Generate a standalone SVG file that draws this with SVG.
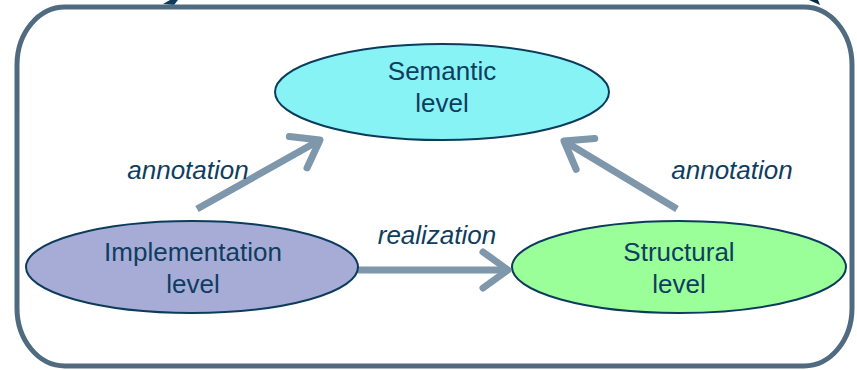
<svg xmlns="http://www.w3.org/2000/svg" width="857" height="370" viewBox="0 0 857 370">
  <style>
    .frame { fill: #ffffff; stroke: #506b7f; stroke-width: 5; }
    .node { stroke: #0d3b5c; stroke-width: 2; }
    .label { font-family: "Liberation Sans", Arial, sans-serif; font-size: 26px; fill: #0f3d5f; text-anchor: middle; }
    .edge-label { font-family: "Liberation Sans", Arial, sans-serif; font-size: 26px; font-style: italic; fill: #0f3d5f; text-anchor: middle; }
    .edge { stroke: #7e97ab; stroke-width: 7; fill: none; stroke-linecap: butt; }
    .head { stroke: #7e97ab; stroke-width: 7; fill: none; stroke-linecap: round; stroke-linejoin: round; }
  </style>
  <defs>
    <marker id="chevron" markerUnits="userSpaceOnUse" viewBox="-30 -25 40 50" markerWidth="40" markerHeight="50" refX="0" refY="0" orient="auto" overflow="visible">
      <path class="head" d="M -25,-18 L 0,0 L -25,18"/>
    </marker>
  </defs>

  <!-- ends of shapes reaching in from above the frame -->
  <path d="M 163,4 L 170,0 L 178,0 L 174,5 Z" fill="#0d3b5c"/>
  <path d="M 809,0 L 818,0 L 820,5 Z" fill="#0a2a40"/>

  <!-- outer frame -->
  <rect class="frame" x="17" y="7" width="835" height="359" rx="48" ry="58"/>

  <!-- connectors -->
  <g id="connectors">
    <line class="edge" x1="197" y1="209" x2="320" y2="140" marker-end="url(#chevron)"/>
    <line class="edge" x1="677" y1="209" x2="564" y2="141" marker-end="url(#chevron)"/>
    <line class="edge" x1="358" y1="270" x2="508" y2="270" marker-end="url(#chevron)"/>
    <text class="edge-label" x="188" y="179">annotation</text>
    <text class="edge-label" x="732" y="179">annotation</text>
    <text class="edge-label" x="437" y="244">realization</text>
  </g>

  <g id="semantic">
    <ellipse class="node" cx="442" cy="92" rx="167" ry="48" fill="#88f3f5"/>
    <text class="label" x="442" y="80">Semantic</text>
    <text class="label" x="442" y="112">level</text>
  </g>

  <g id="implementation">
    <ellipse class="node" cx="192" cy="267" rx="166" ry="46" fill="#a7acd7"/>
    <text class="label" x="193" y="261">Implementation</text>
    <text class="label" x="193" y="293">level</text>
  </g>

  <g id="structural">
    <ellipse class="node" cx="679" cy="267" rx="167" ry="46" fill="#9aff99"/>
    <text class="label" x="679" y="261">Structural</text>
    <text class="label" x="679" y="293">level</text>
  </g>
</svg>
